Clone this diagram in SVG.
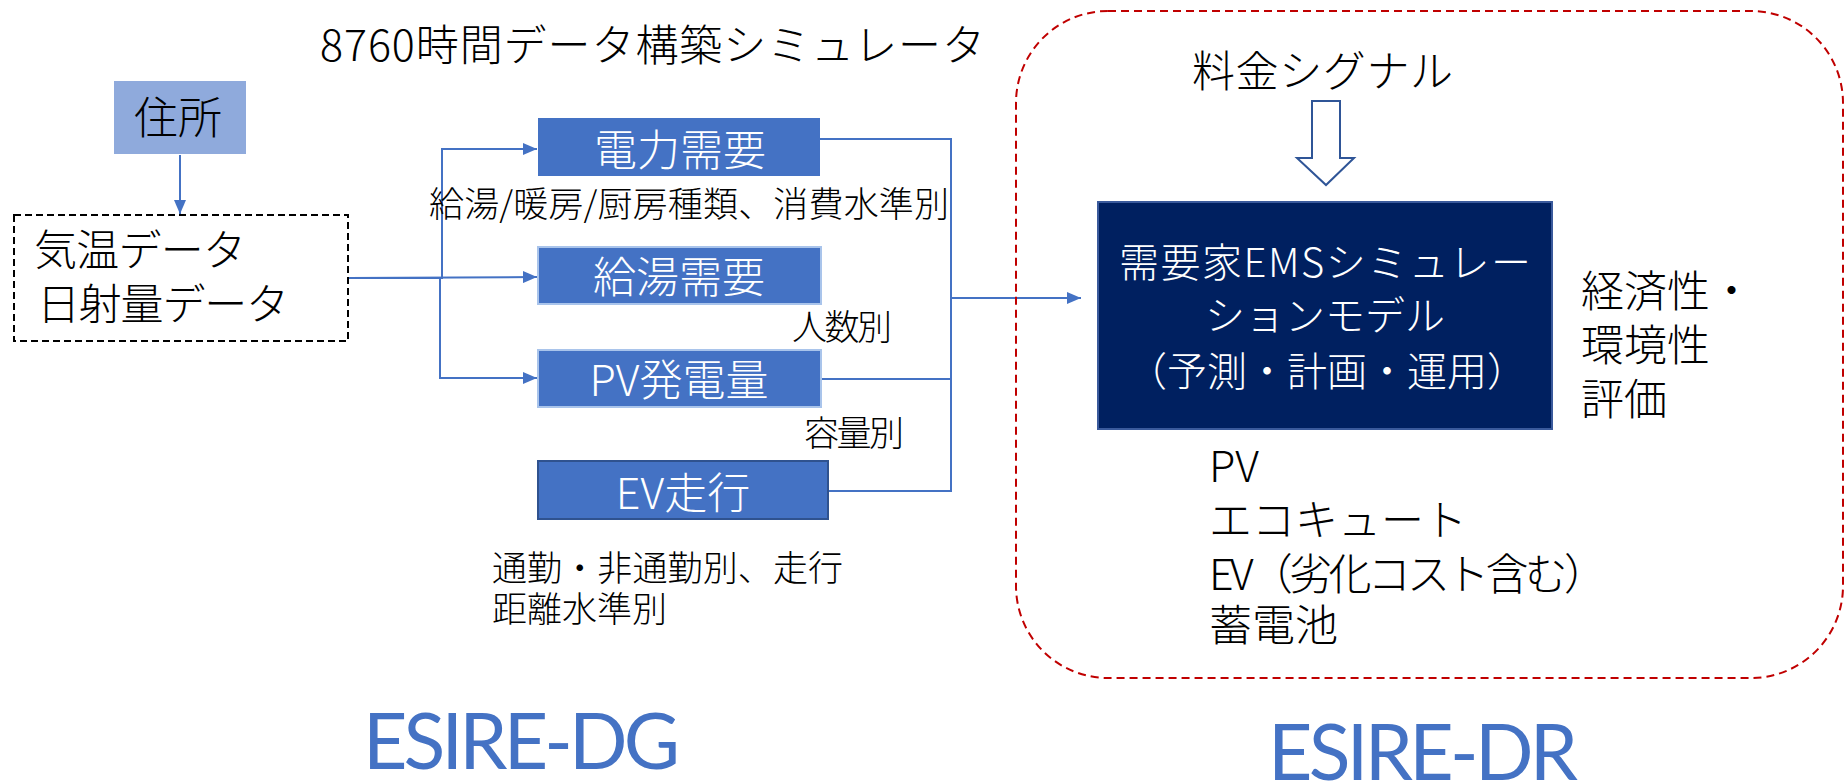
<svg xmlns="http://www.w3.org/2000/svg" width="1846" height="784" viewBox="0 0 1846 784">
<style>
  text { font-family: "Noto Sans CJK JP", "Noto Sans", sans-serif; font-weight: 300; dominant-baseline: central; }
  .blk { fill: #000000; }
  .wht { fill: #ffffff; }
  .big { font-size: 43px; }
  .cap { font-size: 35px; }
  .box { fill: #4472C4; }
  .conn { fill: none; stroke: #4472C4; stroke-width: 2; }
  .logo { font-family: Lato, "Open Sans", sans-serif; font-weight: 400; font-size: 77px; fill: #4472C4; dominant-baseline: alphabetic; }
</style>
<defs>
  <marker id="ah" viewBox="0 0 14 12" refX="14" refY="6" markerWidth="14" markerHeight="12" markerUnits="userSpaceOnUse" orient="auto">
    <path d="M0,0 L14,6 L0,12 z" fill="#4472C4"/>
  </marker>
</defs>
<rect width="1846" height="784" fill="#ffffff"/>

<text id="title" class="blk big" x="320" y="42" textLength="665">8760時間データ構築シミュレータ</text>

<g id="connectors">
  <line class="conn" x1="180" y1="155" x2="180" y2="214" marker-end="url(#ah)"/>
  <polyline class="conn" points="348,278 442,278 442,149 537,149" marker-end="url(#ah)"/>
  <line class="conn" x1="348" y1="278" x2="537" y2="277" marker-end="url(#ah)"/>
  <polyline class="conn" points="440,278 440,378 537,378" marker-end="url(#ah)"/>
  <polyline class="conn" points="819,139 951,139 951,298 1081,298" marker-end="url(#ah)"/>
  <polyline class="conn" points="821,379 951,379 951,298"/>
  <polyline class="conn" points="828,491 951,491 951,379"/>
  <polygon id="signal-arrow" points="1312,101 1340,101 1340,158 1354,158 1326,185 1297,158 1312,158" fill="#ffffff" stroke="#2F5597" stroke-width="2"/>
</g>

<g id="address">
  <rect x="114" y="81" width="132" height="73" fill="#8FAADC"/>
  <text class="blk" x="178" y="115" font-size="44" text-anchor="middle">住所</text>
</g>

<g id="weather">
  <rect x="14" y="215" width="334" height="126" fill="none" stroke="#000000" stroke-width="2" stroke-dasharray="7 4"/>
  <text class="blk big" x="34" y="247" textLength="212">気温データ</text>
  <text class="blk big" x="37" y="301" textLength="252">日射量データ</text>
</g>

<g id="elec-demand">
  <rect class="box" x="538" y="118" width="282" height="58"/>
  <text class="wht big" x="680" y="147" text-anchor="middle">電力需要</text>
  <text class="blk cap" x="429" y="201" textLength="520">給湯/暖房/厨房種類、消費水準別</text>
</g>

<g id="hotwater-demand">
  <rect class="box" x="538" y="247" width="283" height="57" stroke="#A9C4EB" stroke-width="2"/>
  <text class="wht big" x="679" y="274" text-anchor="middle">給湯需要</text>
  <text class="blk cap" x="792" y="324" textLength="100">人数別</text>
</g>

<g id="pv-gen">
  <rect class="box" x="538" y="350" width="283" height="57" stroke="#A9C4EB" stroke-width="2"/>
  <text class="wht big" x="679" y="377" text-anchor="middle">PV発電量</text>
  <text class="blk cap" x="804" y="430" textLength="100">容量別</text>
</g>

<g id="ev-drive">
  <rect class="box" x="538" y="461" width="290" height="58" stroke="#2F528F" stroke-width="2"/>
  <text class="wht big" x="683" y="490" text-anchor="middle">EV走行</text>
  <text class="blk cap" x="492" y="565" textLength="351">通勤・非通勤別、走行</text>
  <text class="blk cap" x="492" y="606">距離水準別</text>
</g>

<g id="dr-frame">
  <rect x="1016" y="11" width="827" height="667" rx="92" ry="92" fill="none" stroke="#C00000" stroke-width="2" stroke-dasharray="8 5"/>
  <text class="blk big" x="1192" y="68" textLength="261">料金シグナル</text>
</g>

<g id="ems-model">
  <rect x="1098" y="202" width="454" height="227" fill="#002060" stroke="#3A5A9C" stroke-width="2"/>
  <text class="wht" font-size="40" x="1325" y="260" text-anchor="middle" textLength="412">需要家EMSシミュレー</text>
  <text class="wht" font-size="40" x="1325" y="313" text-anchor="middle">ションモデル</text>
  <text class="wht" font-size="40" x="1327" y="369" text-anchor="middle">（予測・計画・運用）</text>
</g>

<g id="evaluation">
  <text class="blk big" x="1581" y="288">経済性・</text>
  <text class="blk big" x="1581" y="342">環境性</text>
  <text class="blk big" x="1581" y="396">評価</text>
</g>

<g id="devices">
  <text class="blk big" x="1209" y="463">PV</text>
  <text class="blk big" x="1209" y="517">エコキュート</text>
  <text class="blk big" x="1209" y="571" textLength="398">EV（劣化コスト含む）</text>
  <text class="blk big" x="1209" y="622">蓄電池</text>
</g>

<text id="label-dg" class="logo" x="363" y="769" textLength="317">ESIRE-DG</text>
<text id="label-dr" class="logo" x="1268" y="780" textLength="310">ESIRE-DR</text>
</svg>
